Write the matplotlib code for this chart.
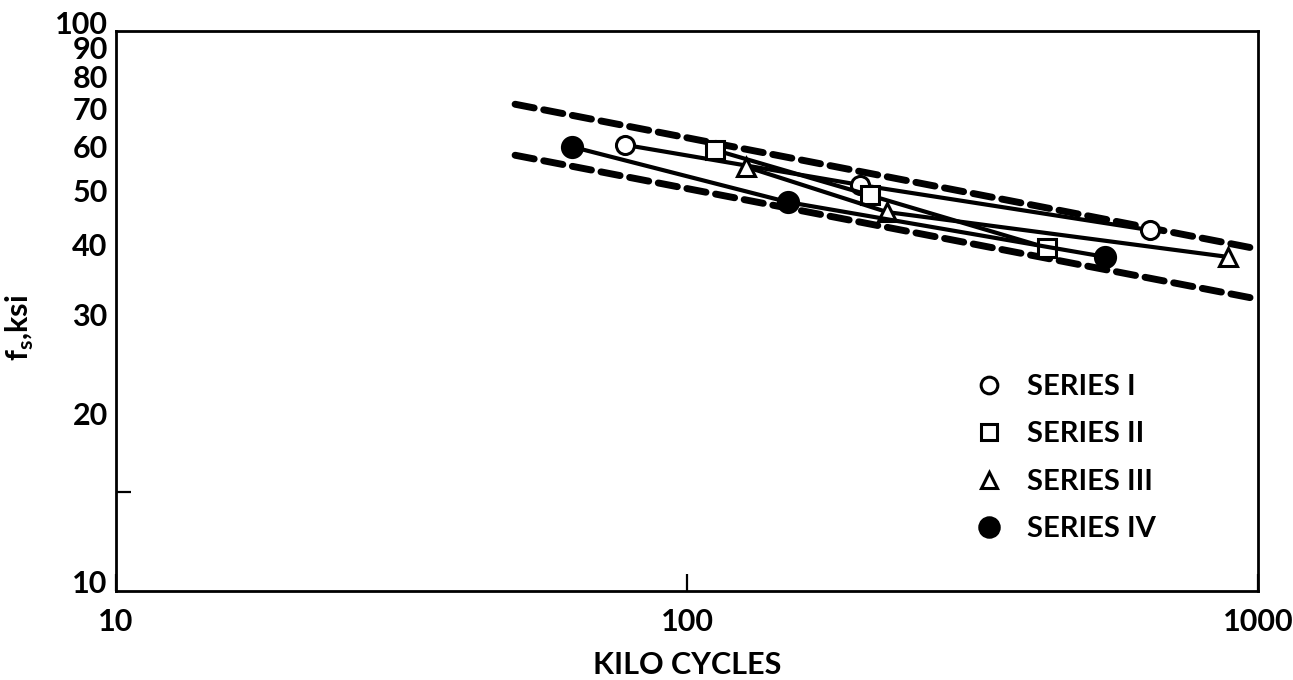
import matplotlib
matplotlib.use("Agg")
import matplotlib.pyplot as plt
from matplotlib.transforms import ScaledTranslation
from matplotlib.lines import Line2D

plt.rcParams['font.family'] = ['Lato', 'DejaVu Sans']
plt.rcParams['font.weight'] = 'bold'
plt.rcParams['lines.scale_dashes'] = False
plt.rcParams['mathtext.fontset'] = 'custom'
plt.rcParams['mathtext.rm'] = 'Lato:bold'

# Data (kilo cycles, ksi)
series1_x = [78, 201, 647]
series1_y = [62.6, 53.1, 44.1]
series2_x = [112, 209, 427]
series2_y = [61.3, 50.9, 41.0]
series3_x = [127, 224, 886]
series3_y = [57.2, 47.5, 39.5]
series4_x = [63, 150, 540]
series4_y = [62.1, 49.5, 39.5]

band_x = [50, 1000]
band_upper = [74, 40.8]
band_lower = [60, 33.2]

labels = ["SERIES I", "SERIES II", "SERIES III", "SERIES IV"]
y_tick_labels = ["10", "20", "30", "40", "50", "60", "70", "80", "90", "100"]
y_ticks = [10, 20, 30, 40, 50, 60, 70, 80, 90, 100]
y_minor = [15, 30, 40, 50, 60, 70, 80, 90]
x_ticks = [10, 100, 1000]
x_tick_labels = ["10", "100", "1000"]

fig = plt.figure(figsize=(12.93, 6.8), dpi=100)
ax = fig.add_axes([0.0897, 0.1309, 0.9729 - 0.0897, 0.9544 - 0.1309])
ax.set_xscale('log')
ax.set_yscale('log')
ax.set_xlim(10, 1000)
ax.set_ylim(10, 100)

# Dashed band
ax.plot(band_x, band_upper, color='black', lw=5, ls=(0, (14, 7)), dash_capstyle='round', clip_on=False)
ax.plot(band_x, band_lower, color='black', lw=5, ls=(0, (14, 7)), dash_capstyle='round', clip_on=False)

ms = 13
mew = 2.2
lw = 3
ax.plot(series1_x, series1_y, color='black', lw=lw, marker='o', ms=ms, mfc='white', mec='black', mew=mew, zorder=3)
ax.plot(series2_x, series2_y, color='black', lw=lw, marker='s', ms=ms, mfc='white', mec='black', mew=mew, zorder=3)
ax.plot(series3_x, series3_y, color='black', lw=lw, marker='^', ms=ms, mfc='white', mec='black', mew=mew, zorder=3)
ax.plot(series4_x, series4_y, color='black', lw=lw, marker='o', ms=ms + 1.5, mfc='black', mec='black', mew=mew, zorder=3)

handles = [
    Line2D([], [], ls='none', marker='o', ms=12, mfc='white', mec='black', mew=2.2),
    Line2D([], [], ls='none', marker='s', ms=11, mfc='white', mec='black', mew=2.2),
    Line2D([], [], ls='none', marker='^', ms=12, mfc='white', mec='black', mew=2.2),
    Line2D([], [], ls='none', marker='o', ms=14, mfc='black', mec='black', mew=2.2),
]
leg = ax.legend(handles, labels, loc='upper left', bbox_to_anchor=(0.752, 0.388), frameon=False,
                prop={'size': 21, 'weight': 'bold'}, handlelength=1.0, handletextpad=0.8,
                labelspacing=0.74, borderpad=0, borderaxespad=0)

for s in ax.spines.values():
    s.set_linewidth(2)

ax.set_yticks(y_ticks)
ax.set_yticklabels(y_tick_labels)
ax.set_yticks(y_minor, minor=True)
ax.yaxis.set_minor_formatter(plt.NullFormatter())
ax.set_xticks(x_ticks)
ax.set_xticklabels(x_tick_labels)
ax.xaxis.set_minor_locator(plt.NullLocator())

ax.tick_params(axis='y', which='major', length=0, pad=6, labelsize=22)
ax.tick_params(axis='y', which='minor', direction='in', length=11, width=1.6)
ax.tick_params(axis='x', which='major', direction='in', length=12, width=1.6, pad=12, labelsize=22)

for lab in ax.get_yticklabels():
    lab.set_transform(lab.get_transform() + ScaledTranslation(0, 0.09, fig.dpi_scale_trans))
for lab in ax.get_xticklabels():
    lab.set_fontweight('bold')
for lab in ax.get_yticklabels():
    lab.set_fontweight('bold')

ax.set_xlabel("KILO CYCLES", fontsize=22, fontweight='bold', labelpad=11)
ax.set_ylabel(r"f$_{\mathregular{s}}$,ksi", fontsize=22, fontweight='bold')
ax.yaxis.set_label_coords(-0.07, 0.47)

fig.savefig("out.png", dpi=100)
